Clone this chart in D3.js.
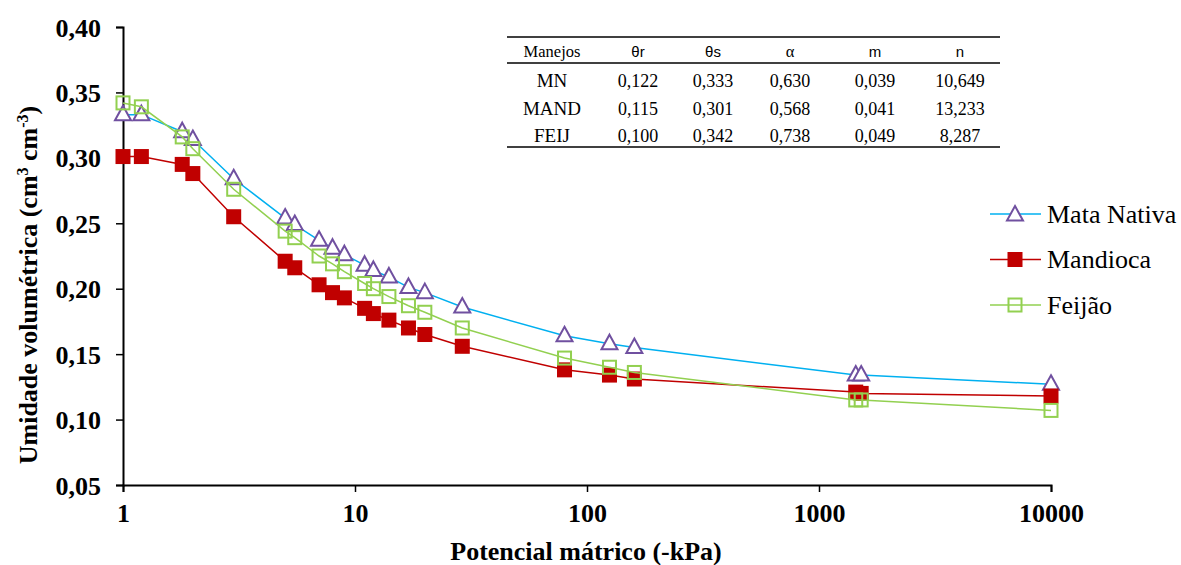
<!DOCTYPE html>
<html>
<head>
<meta charset="utf-8">
<script src="https://cdn.jsdelivr.net/npm/d3@7"></script>
<style>
  body { margin: 0; background: #fff; }
  svg text { font-family: "Liberation Serif", "Times New Roman", serif; }
</style>
</head>
<body>
<script>
// tensions (kPa)
var potencial = [1, 1.2, 1.8, 2, 3, 5, 5.5, 7, 8, 9, 11, 12, 14, 17, 20, 29, 80, 125, 160, 1440, 1520, 10000];

var mataNativa = [0.333, 0.333, 0.320, 0.314, 0.284, 0.254, 0.249, 0.237, 0.231, 0.226, 0.218, 0.214, 0.209, 0.201, 0.197, 0.186, 0.164, 0.158, 0.155, 0.134, 0.134, 0.127];
var mandioca   = [0.301, 0.301, 0.295, 0.288, 0.255, 0.221, 0.216, 0.203, 0.197, 0.193, 0.185, 0.181, 0.176, 0.170, 0.165, 0.156, 0.138, 0.134, 0.131, 0.121, 0.120, 0.118];
var feijao     = [0.342, 0.339, 0.316, 0.307, 0.276, 0.244, 0.239, 0.225, 0.219, 0.213, 0.204, 0.200, 0.194, 0.187, 0.182, 0.170, 0.147, 0.140, 0.136, 0.115, 0.115, 0.107];

var seriesNames = ["Mata Nativa", "Mandioca", "Feijão"];

var xTicks = [1, 10, 100, 1000, 10000];
var yTicks = [0.05, 0.10, 0.15, 0.20, 0.25, 0.30, 0.35, 0.40];

// parameter table
var tableHeader = ["Manejos", "θr", "θs", "α", "m", "n"];
var tableRows = [
  ["MN", "0,122", "0,333", "0,630", "0,039", "10,649"],
  ["MAND", "0,115", "0,301", "0,568", "0,041", "13,233"],
  ["FEIJ", "0,100", "0,342", "0,738", "0,049", "8,287"]
];

var SERIF = "'Liberation Serif', 'Times New Roman', serif";
var SANS = "'Liberation Sans', Arial, sans-serif";

var W = 1181, H = 565;
var margin = {left: 123, top: 27};
var plotW = 1051 - margin.left, plotH = 485 - margin.top;

var svg = d3.select("body").append("svg")
  .attr("width", W)
  .attr("height", H);

var g = svg.append("g").attr("transform", "translate(" + margin.left + "," + margin.top + ")");

var x = d3.scaleLog().domain([1, 10000]).range([0, plotW]);
var y = d3.scaleLinear().domain([0.05, 0.40]).range([plotH, 0]);

var comma = function(d) { return d3.format(".2f")(d).replace(".", ","); };

// axes
var yAxis = g.append("g")
  .call(d3.axisLeft(y).tickValues(yTicks).tickFormat(comma).tickSize(7).tickPadding(15));
var xAxis = g.append("g")
  .attr("transform", "translate(0," + plotH + ")")
  .call(d3.axisBottom(x).tickValues(xTicks).tickFormat(d3.format("d")).tickSize(7).tickPadding(10));

[xAxis, yAxis].forEach(function(a) {
  a.select(".domain").attr("stroke", "#000").attr("stroke-width", 2);
  a.selectAll(".tick line").attr("stroke", "#000").attr("stroke-width", 1.5);
  a.selectAll("text")
    .attr("fill", "#000")
    .style("font-family", SERIF)
    .style("font-size", "26px")
    .style("font-weight", "bold");
});
yAxis.selectAll("text").attr("dy", "0.35em");
xAxis.selectAll("text").attr("dy", "0.75em");

// axis titles
svg.append("text")
  .attr("x", 586).attr("y", 560)
  .attr("text-anchor", "middle")
  .style("font-family", SERIF)
  .style("font-size", "26px").style("font-weight", "bold")
  .text("Potencial mátrico (-kPa)");

var yt = svg.append("text")
  .attr("transform", "translate(37,285) rotate(-90)")
  .attr("text-anchor", "middle")
  .style("font-family", SERIF)
  .style("font-size", "26px").style("font-weight", "bold");
yt.append("tspan").text("Umidade volumétrica (cm");
yt.append("tspan").attr("dy", -9).style("font-size", "16px").text("3");
yt.append("tspan").attr("dy", 9).text(" cm");
yt.append("tspan").attr("dy", -9).style("font-size", "16px").text("-3");
yt.append("tspan").attr("dy", 9).text(")");

// series
var series = [
  {name: seriesNames[0], values: mataNativa, line: "#00b0f0", marker: "triangle", stroke: "#7050a0", fill: "#fff"},
  {name: seriesNames[1], values: mandioca, line: "#c00000", marker: "square", stroke: "#c00000", fill: "#c00000"},
  {name: seriesNames[2], values: feijao, line: "#92d050", marker: "square", stroke: "#92d050", fill: "none"}
];

var line = d3.line()
  .x(function(d) { return x(d[0]); })
  .y(function(d) { return y(d[1]); });

function drawMarker(sel, s) {
  if (s.marker === "triangle") {
    sel.append("path")
      .attr("d", "M0,-9L8,5.5L-8,5.5Z")
      .attr("fill", s.fill).attr("stroke", s.stroke).attr("stroke-width", 2);
  } else {
    var sz = s.fill === "none" ? 13 : 15;
    sel.append("rect")
      .attr("x", -sz / 2).attr("y", -sz / 2).attr("width", sz).attr("height", sz)
      .attr("fill", s.fill).attr("stroke", s.stroke).attr("stroke-width", s.fill === "none" ? 2 : 0);
  }
}

series.forEach(function(s) {
  var pts = potencial.map(function(p, i) { return [p, s.values[i]]; });
  g.append("path")
    .datum(pts)
    .attr("d", line)
    .attr("fill", "none")
    .attr("stroke", s.line)
    .attr("stroke-width", 1.5);
  g.selectAll(null)
    .data(pts)
    .enter().append("g")
    .attr("transform", function(d) { return "translate(" + x(d[0]) + "," + y(d[1]) + ")"; })
    .each(function() { drawMarker(d3.select(this), s); });
});

// legend
var legend = svg.append("g");
series.forEach(function(s, i) {
  var ly = 214 + i * 45.5;
  legend.append("line")
    .attr("x1", 990).attr("x2", 1041).attr("y1", ly).attr("y2", ly)
    .attr("stroke", s.line).attr("stroke-width", 1.5);
  drawMarker(legend.append("g").attr("transform", "translate(1015," + (s.marker === "triangle" ? ly + 1 : ly) + ")"), s);
  legend.append("text")
    .attr("x", 1047).attr("y", ly)
    .attr("dy", "0.33em")
    .style("font-family", SERIF)
    .style("font-size", "26px")
    .text(s.name);
});

// table
var tbl = svg.append("g");
var colX = [552, 638, 713, 790, 875, 960];
var sansCols = [false, true, true, false, true, true];
[37, 63, 147].forEach(function(ly) {
  tbl.append("line").attr("x1", 507).attr("x2", 1000).attr("y1", ly).attr("y2", ly)
    .attr("stroke", "#000").attr("stroke-width", 1.5);
});

tableHeader.forEach(function(h, j) {
  tbl.append("text")
    .attr("x", colX[j]).attr("y", 57)
    .attr("text-anchor", "middle")
    .style("font-family", sansCols[j] ? SANS : SERIF)
    .style("font-size", sansCols[j] ? "15px" : "16.5px")
    .text(h);
});
tableRows.forEach(function(r, i) {
  r.forEach(function(v, j) {
    tbl.append("text")
      .attr("x", colX[j]).attr("y", 87 + i * 27.5)
      .attr("text-anchor", "middle")
      .style("font-family", SERIF)
      .style("font-size", j === 0 ? "19px" : "18px")
      .text(v);
  });
});
</script>
</body>
</html>
